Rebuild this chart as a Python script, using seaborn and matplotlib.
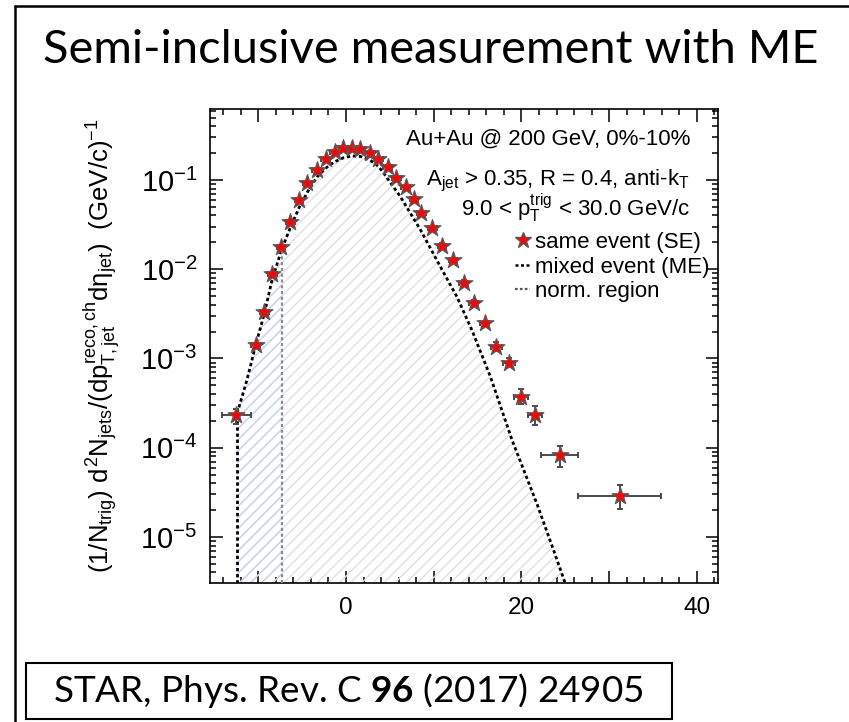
import numpy as np
import pandas as pd
import matplotlib
matplotlib.use("Agg")
import matplotlib.pyplot as plt
import seaborn as sns
from matplotlib.lines import Line2D
from matplotlib.patches import Rectangle
from matplotlib.ticker import FixedLocator, FixedFormatter, MultipleLocator, LogLocator, NullFormatter

# ---------------- data ----------------
se_x = [-12.5, -10.3, -9.3, -8.4, -7.4, -6.35, -5.35, -4.4, -3.35, -2.3, -1.3, -0.35,
        0.7, 1.65, 2.7, 3.7, 4.75, 5.75, 6.8, 7.75, 8.6, 9.85, 10.95, 12.2, 13.4,
        14.55, 15.8, 17.15, 18.6, 19.95, 21.5, 24.35, 31.2]
se_y = [2.33e-4, 1.42e-3, 3.32e-3, 8.8e-3, 1.79e-2, 3.38e-2, 5.97e-2, 9.18e-2, 0.130,
        0.171, 0.207, 0.226, 0.230, 0.221, 0.199, 0.172, 0.141, 0.106, 0.0828, 0.0608,
        0.0424, 0.0288, 0.0184, 0.0127, 7.07e-3, 4.22e-3, 2.48e-3, 1.35e-3, 8.97e-4,
        3.73e-4, 2.33e-4, 8.3e-5, 2.9e-5]
se_xerr = [1.65] + [0.5] * 26 + [0.65, 0.7, 0.75, 0.8, 2.15, 4.7]
se_yerr_lo = [0.48e-4, 0.08e-3, 0.2e-3, 0.5e-3, 1.0e-3, 1.9e-3, 3.4e-3, 5.2e-3, 0.007,
              0.009, 0.011, 0.012, 0.012, 0.012, 0.011, 0.009, 0.008, 0.006, 0.0045,
              0.0034, 0.0024, 0.0016, 0.0011, 0.0008, 0.45e-3, 0.3e-3, 0.18e-3,
              0.14e-3, 0.1e-3, 0.63e-4, 0.55e-4, 2.2e-5, 0.85e-5]
se_yerr_hi = [0.42e-4, 0.08e-3, 0.2e-3, 0.5e-3, 1.0e-3, 1.9e-3, 3.4e-3, 5.2e-3, 0.007,
              0.009, 0.011, 0.012, 0.012, 0.012, 0.011, 0.009, 0.008, 0.006, 0.0045,
              0.0034, 0.0024, 0.0016, 0.0011, 0.0008, 0.45e-3, 0.3e-3, 0.18e-3,
              0.16e-3, 0.12e-3, 0.77e-4, 0.57e-4, 2.1e-5, 0.9e-5]

me_x = [-12.4, -11.3, -10.3, -9.3, -8.4, -7.3, -6.3, -5.3, -4.3, -3.3, -2.3, -1.3, -0.3,
        0.7, 1.7, 2.7, 3.7, 4.3, 6.2, 8.5, 10.75, 12.65, 14.35, 16.45, 18.9, 21.8,
        23.85, 25.0, 25.5]
me_y = [2.43e-4, 5.7e-4, 1.4e-3, 3.2e-3, 7.8e-3, 1.7e-2, 3.0e-2, 5.0e-2, 7.6e-2, 0.108,
        0.136, 0.160, 0.177, 0.186, 0.183, 0.168, 0.142, 0.119, 0.065, 0.0275, 0.0107,
        4.9e-3, 2.08e-3, 6.3e-4, 1.24e-4, 2.3e-5, 6.3e-6, 3.0e-6, 2.0e-6]
norm_lo, norm_hi = -12.4, -7.3

x_major = [-10, 0, 10, 20, 30, 40]
x_labels = ["", "0", "", "20", "", "40"]
y_major = [1e-5, 1e-4, 1e-3, 1e-2, 1e-1]
y_labels = [r"$10^{-5}$", r"$10^{-4}$", r"$10^{-3}$", r"$10^{-2}$", r"$10^{-1}$"]

legend_labels = ["same event (SE)", "mixed event (ME)", "norm. region"]
info_lines = ["Au+Au @ 200 GeV, 0%-10%",
              r"A$_{\rm jet}$ > 0.35, R = 0.4, anti-k$_{\rm T}$",
              r"9.0 < p$_{\rm T}^{\rm trig}$ < 30.0 GeV/c"]
title_text = "Semi-inclusive measurement with ME"
ylabel_text = (r"$(1/N_{\rm trig})\ d^{2}N_{\rm jets}/(dp_{\rm T,jet}^{\rm reco,ch}"
               r"d\eta_{\rm jet})\ \ ({\rm GeV}/c)^{-1}$")

# ---------------- style ----------------
sns.set_theme(style="ticks")
plt.rcParams.update({
    "mathtext.fontset": "custom",
    "mathtext.rm": "Liberation Sans",
    "mathtext.it": "Liberation Sans",
    "mathtext.sf": "Liberation Sans",
    "mathtext.bf": "Lato:bold",
    "hatch.linewidth": 1.0,
    "axes.linewidth": 1.2,
    "text.color": "black",
    "axes.labelcolor": "black",
    "xtick.color": "black",
    "ytick.color": "black",
})
plt.rcParams["font.family"] = ["Liberation Sans", "DejaVu Sans"]

W, H = 849, 722
fig = plt.figure(figsize=(W / 100, H / 100), dpi=100)
fig.patch.set_facecolor("white")
ax = fig.add_axes([210 / W, 1 - 583 / H, 508 / W, 474 / H])
ax.set_yscale("log")
ylo, yhi = 3.05e-6, 0.624
ax.set_xlim(-15.5, 42.4)
ax.set_ylim(ylo, yhi)

mex = np.array(me_x)
mey = np.array(me_y)

# hatched areas
ax.fill_between(mex, mey, ylo, hatch="///", facecolor="none", edgecolor="#dfe1e6",
                linewidth=0, zorder=1)
m = (mex >= norm_lo) & (mex <= norm_hi)
ax.fill_between(mex[m], mey[m], ylo, hatch="///", facecolor="none", edgecolor="#ccd4ea",
                linewidth=0, zorder=1.1)

# ME curve
me_df = pd.DataFrame({"x": me_x, "y": me_y})
sns.lineplot(data=me_df, x="x", y="y", ax=ax, color="black", linewidth=2.0,
             linestyle=(0, (1.2, 1.0)), estimator=None, sort=False, zorder=3)
ax.vlines(me_x[0], ylo, me_y[0], colors="black", linewidth=2.0,
          linestyles=[(0, (1.2, 1.0))], zorder=3)
ax.vlines(norm_hi, ylo, float(np.interp(norm_hi, mex, mey)), colors="#8a8a8a",
          linewidth=1.6, linestyles=[(0, (1.4, 1.2))], zorder=3)

# SE points
ax.errorbar(se_x, se_y, xerr=se_xerr, yerr=[se_yerr_lo, se_yerr_hi], fmt="none",
            ecolor="#4a4a4a", elinewidth=1.4, capsize=2.2, capthick=1.4, zorder=4)
se_df = pd.DataFrame({"x": se_x, "y": se_y})
sns.scatterplot(data=se_df, x="x", y="y", ax=ax, marker="*", s=160, color="red",
                edgecolor="#5a5a5a", linewidth=0.9, zorder=5, legend=False)

# axes / ticks
ax.set_xlabel("")
ax.set_ylabel(ylabel_text, fontsize=18.5)
ax.yaxis.set_label_coords(-0.172, 0.5)
ax.xaxis.set_major_locator(FixedLocator(x_major))
ax.xaxis.set_major_formatter(FixedFormatter(x_labels))
ax.xaxis.set_minor_locator(MultipleLocator(2))
ax.yaxis.set_major_locator(FixedLocator(y_major))
ax.yaxis.set_major_formatter(FixedFormatter(y_labels))
ax.yaxis.set_minor_locator(LogLocator(base=10, subs=np.arange(2, 10)))
ax.yaxis.set_minor_formatter(NullFormatter())
ax.tick_params(which="both", direction="in", top=True, right=True, color="black",
               width=1.1)
ax.tick_params(which="major", length=9)
ax.tick_params(which="minor", length=4.3)
ax.tick_params(axis="x", which="major", labelsize=17.5, pad=10)
ax.tick_params(axis="y", which="major", labelsize=21, pad=9)
for s in ax.spines.values():
    s.set_color("black")
    s.set_linewidth(1.2)
ax.grid(False)

# info text
info_y = [0.924, 0.8397, 0.7728]
for t, yy in zip(info_lines, info_y):
    ax.text(0.945, yy, t, transform=ax.transAxes, ha="right", va="baseline",
            fontsize=16, color="black")

# legend
handles = [
    Line2D([], [], marker="*", color="red", markeredgecolor="#5a5a5a", markersize=12,
           linestyle="none"),
    Line2D([], [], color="black", linewidth=1.8, linestyle=(0, (1.2, 1.0))),
    Line2D([], [], color="#555555", linewidth=1.6, linestyle=(0, (1.2, 1.0))),
]
leg = ax.legend(handles, legend_labels, loc="upper left", bbox_to_anchor=(0.6, 0.74),
                frameon=False, fontsize=16, handlelength=0.7, handletextpad=0.2,
                labelspacing=0.15, borderpad=0, borderaxespad=0)
for t in leg.get_texts():
    t.set_color("black")

# figure title, caption, slide border
fig.text(43 / W, 1 - 63 / H, title_text, fontsize=33.8, family=["Lato", "DejaVu Sans"],
         ha="left", va="baseline", color="black")
fig.text(53 / W, 1 - 701.7 / H, r"STAR, Phys. Rev. C $\mathbf{96}$ (2017) 24905",
         fontsize=26.6, family=["Lato", "DejaVu Sans"], ha="left", va="baseline",
         color="black")
fig.add_artist(Rectangle((26 / W, 1 - 719.3 / H), (672 - 26) / W, (719.3 - 662.7) / H,
                         transform=fig.transFigure, fill=False, edgecolor="black",
                         linewidth=1.5))
fig.add_artist(Line2D([15 / W, 15 / W], [0, 1 - 5.5 / H], transform=fig.transFigure,
                      color="black", linewidth=1.8))
fig.add_artist(Line2D([15 / W, 1], [1 - 5.5 / H, 1 - 5.5 / H], transform=fig.transFigure,
                      color="black", linewidth=1.8))

fig.savefig("out.png", dpi=100)
